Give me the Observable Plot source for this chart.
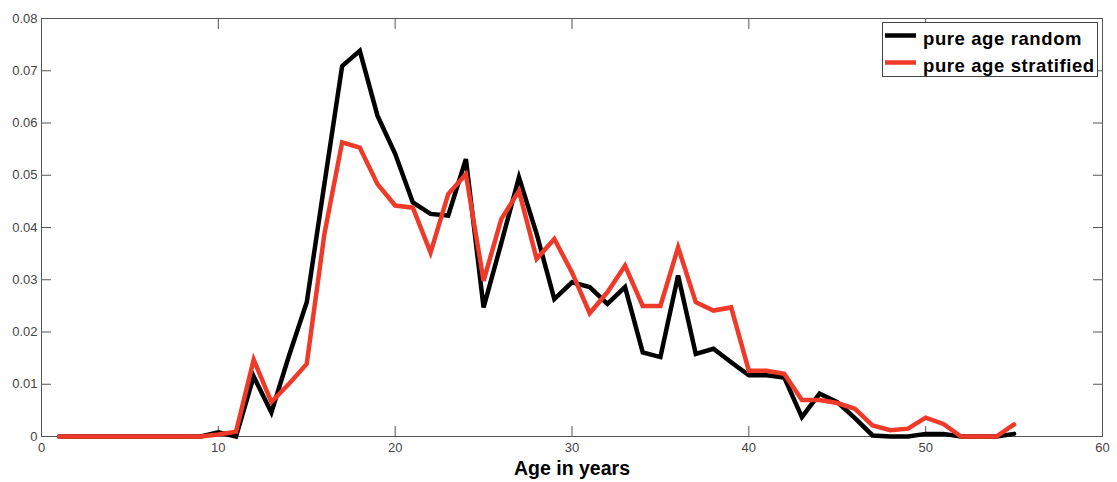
<!DOCTYPE html>
<html>
<head>
<meta charset="utf-8">
<script src="https://cdn.jsdelivr.net/npm/d3@7"></script>
<script src="https://cdn.jsdelivr.net/npm/@observablehq/plot@0.6"></script>
<style>
  html, body { margin: 0; padding: 0; background: #fff; }
  #wrap { position: relative; width: 1117px; height: 482px; font-family: "Liberation Sans", Arial, sans-serif; }
  #wrap svg { font-family: "Liberation Sans", Arial, sans-serif; }
  #chart svg [aria-label="x-axis label"] text { font-weight: bold; font-size: 19.5px; fill: #000; }
  #legend { position: absolute; left: 882px; top: 22px; }
</style>
</head>
<body>
<div id="wrap">
  <div id="chart"></div>
  <svg id="legend" width="218" height="56"></svg>
</div>
<script>
const ages = d3.range(1, 56);
const seriesNames = ["pure age random", "pure age stratified"];
const seriesColors = ["#000000", "#ef3a29"];
const randomVals = [
  0, 0, 0, 0, 0, 0, 0, 0, 0, 0.0008,
  0, 0.0115, 0.0046, 0.0155, 0.0257, 0.0484, 0.0709, 0.0738, 0.0614, 0.0541,
  0.0448, 0.0426, 0.0423, 0.0531, 0.0247, 0.0370, 0.0496, 0.0388, 0.0263, 0.0295,
  0.0286, 0.0254, 0.0286, 0.0161, 0.0152, 0.0308, 0.0158, 0.0168, 0.0142, 0.0117,
  0.0117, 0.0113, 0.0037, 0.0082, 0.0066, 0.0035, 0.0002, 0, 0, 0.0005,
  0.0005, 0, 0, 0, 0.0005
];
const stratifiedVals = [
  0, 0, 0, 0, 0, 0, 0, 0, 0, 0.0004,
  0.0009, 0.0147, 0.0066, 0.0101, 0.0139, 0.0388, 0.0563, 0.0553, 0.0483, 0.0442,
  0.0438, 0.0352, 0.0464, 0.0502, 0.0298, 0.0416, 0.0470, 0.0340, 0.0378, 0.0314,
  0.0236, 0.0276, 0.0327, 0.0250, 0.0250, 0.0362, 0.0257, 0.0241, 0.0247, 0.0126,
  0.0126, 0.0120, 0.0070, 0.0070, 0.0064, 0.0053, 0.0021, 0.0012, 0.0015, 0.0036,
  0.0024, 0, 0, 0, 0.0023
];
const xTicks = [0, 10, 20, 30, 40, 50, 60];
const yTicks = [0, 0.01, 0.02, 0.03, 0.04, 0.05, 0.06, 0.07, 0.08];
const xLabel = "Age in years";

const data = [];
ages.forEach((a, i) => data.push({age: a, value: randomVals[i], series: seriesNames[0]}));
ages.forEach((a, i) => data.push({age: a, value: stratifiedVals[i], series: seriesNames[1]}));

const axisColor = "#555";
const yFmt = d => d === 0 ? "0" : d.toFixed(2);

const chart = Plot.plot({
  width: 1117,
  height: 482,
  marginLeft: 41,
  marginRight: 15,
  marginTop: 18,
  marginBottom: 46,
  style: {fontSize: "13px", color: "#444", background: "#fff"},
  x: {domain: [0, 60], ticks: xTicks},
  y: {domain: [0, 0.08], ticks: yTicks},
  color: {domain: seriesNames, range: seriesColors},
  marks: [
    Plot.frame({stroke: axisColor, strokeWidth: 1}),
    Plot.axisX({anchor: "bottom", ticks: xTicks, tickSize: 10, dy: -10, text: null, stroke: axisColor, label: null}),
    Plot.axisX({anchor: "top", ticks: xTicks, tickSize: 10, dy: 10, text: null, stroke: axisColor, label: null}),
    Plot.axisX({anchor: "bottom", ticks: xTicks, tickSize: 0, tickPadding: 6, fill: "#444", label: xLabel, labelAnchor: "center", labelArrow: "none", labelOffset: 38}),
    Plot.axisY({anchor: "left", ticks: yTicks, tickSize: 10, dx: 10, text: null, stroke: axisColor, label: null}),
    Plot.axisY({anchor: "right", ticks: yTicks, tickSize: 10, dx: -10, text: null, stroke: axisColor, label: null}),
    Plot.axisY({anchor: "left", ticks: yTicks, tickSize: 0, tickPadding: 4, tickFormat: yFmt, fill: "#444", label: null}),
    Plot.line(data, {x: "age", y: "value", stroke: "series", z: "series", strokeWidth: 4.5, strokeLinejoin: "miter", strokeMiterlimit: 4})
  ]
});
document.getElementById("chart").appendChild(chart);

// Legend (box with swatches and labels)
const lg = d3.select("#legend");
lg.append("rect").attr("x", 0.5).attr("y", 0.5).attr("width", 215).attr("height", 54)
  .attr("fill", "#fff").attr("stroke", "#444").attr("stroke-width", 1);
seriesNames.forEach((name, i) => {
  const cy = 13.5 + i * 27;
  lg.append("line").attr("x1", 3).attr("x2", 34).attr("y1", cy).attr("y2", cy)
    .attr("stroke", seriesColors[i]).attr("stroke-width", 4.5);
  lg.append("text").attr("x", 41).attr("y", cy + 9.5)
    .attr("font-family", "Liberation Sans, Arial, sans-serif")
    .attr("font-weight", "bold").attr("font-size", 18.5)
    .attr("letter-spacing", "0.6px")
    .attr("fill", "#000").text(name);
});
</script>
</body>
</html>
